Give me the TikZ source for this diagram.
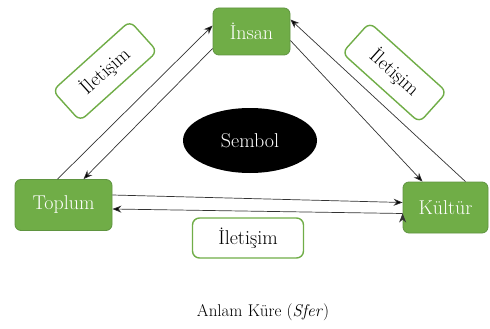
\documentclass[tikz,border=0pt]{standalone}
\usepackage{fontspec}
\usetikzlibrary{arrows.meta,shapes,calc}
\definecolor{kgreen}{HTML}{70AD47}
\definecolor{kdark}{HTML}{5F9440}

\begin{document}
\begin{tikzpicture}[x=1pt,y=-1pt,
    kutu/.style={draw=kdark,fill=kgreen,line width=0.8pt,rounded corners=6pt,text=white,font=\fontsize{20}{22}\selectfont},
    iletisim/.style={draw=kgreen,fill=white,line width=1.4pt,rounded corners=7pt,minimum width=104pt,minimum height=41pt,font=\fontsize{20}{22}\selectfont},
    >={Stealth[length=9pt,width=7pt]}]
  \useasboundingbox (0,0) rectangle (490,329);
  \node[kutu,minimum width=77pt,minimum height=47pt] (insan) at (251.5,31.5) {İnsan};
  \node[kutu,minimum width=97pt,minimum height=51pt] (toplum) at (63.5,205) {Toplum};
  \node[kutu,minimum width=85pt,minimum height=51pt] (kultur) at (445.5,207.5) {Kültür};
  \node[ellipse,fill=black,text=white,minimum width=134pt,minimum height=65pt,font=\fontsize{20}{22}\selectfont] (sembol) at (250,140.5) {Sembol};
  \node[iletisim,rotate=42] (il-sol) at (105,71) {İletişim};
  \node[iletisim,rotate=-42] (il-sag) at (394.5,72.5) {İletişim};
  \node[iletisim,minimum width=111pt,minimum height=40pt] (il-alt) at (248,238) {İletişim};
  \node[font=\fontsize{17}{19}\selectfont] (anlam) at (263,312) {Anlam Küre (\textit{Sfer})};
  \path[->,draw=black!80,line width=0.7pt]
     ([xshift=-6pt]toplum.north) edge ([yshift=6pt]insan.west)
     ([yshift=-17pt]insan.west) edge ([xshift=20pt]toplum.north)
     ([xshift=20pt]kultur.north) edge ([yshift=12pt]insan.east)
     ([yshift=-9pt]insan.east) edge ([xshift=-23pt]kultur.north)
     ([yshift=10pt]toplum.east) edge ([yshift=5pt]kultur.west)
     ([yshift=-6pt]kultur.west) edge ([yshift=-4pt]toplum.east);
\end{tikzpicture}
\end{document}
